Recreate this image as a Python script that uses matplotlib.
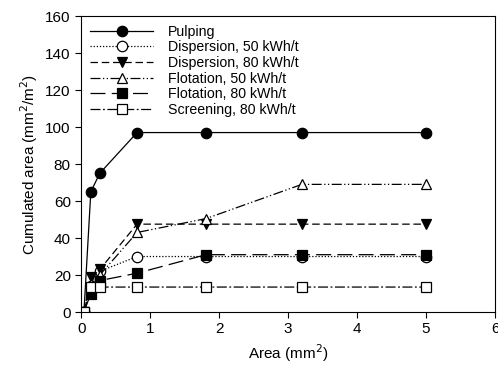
import matplotlib
matplotlib.use('Agg')
import matplotlib.pyplot as plt

plt.rcParams['font.family'] = ['Liberation Sans', 'DejaVu Sans']

area = [0.04, 0.14, 0.27, 0.81, 1.81, 3.2, 5.0]

pulping = [0, 65, 75, 97, 97, 97, 97]
disp_50 = [0, 14, 22, 30, 30, 30, 30]
disp_80 = [0, 19, 23, 47.5, 47.5, 47.5, 47.5]
flot_50 = [0, 15, 20, 43, 50.5, 69, 69]
flot_80 = [0, 10, 17, 21, 31, 31, 31]
screen_80 = [0, 13.5, 13.5, 13.5, 13.5, 13.5, 13.5]

series = [
    ('Pulping', pulping, '-', 'o', 'black'),
    ('Dispersion, 50 kWh/t', disp_50, (0, (1, 1.5)), 'o', 'white'),
    ('Dispersion, 80 kWh/t', disp_80, (0, (6, 3)), 'v', 'black'),
    ('Flotation, 50 kWh/t', flot_50, (0, (8, 2, 1, 2, 1, 2)), '^', 'white'),
    ('Flotation, 80 kWh/t', flot_80, (0, (12, 5)), 's', 'black'),
    ('Screening, 80 kWh/t', screen_80, (0, (8, 2, 1.5, 2)), 's', 'white'),
]

fig = plt.figure(figsize=(4.98, 3.81), dpi=100)
ax = fig.add_axes([0.163, 0.181, 0.831, 0.777])

for label, vals, ls, mk, fc in series:
    ax.plot(area, vals, linestyle=ls, color='black', linewidth=0.9,
            marker=mk, markersize=7.5, markerfacecolor=fc,
            markeredgecolor='black', markeredgewidth=0.9, label=label)

ax.set_xlim(0, 6)
ax.set_ylim(0, 160)
ax.set_xticks(range(0, 7))
ax.set_yticks(range(0, 161, 20))
ax.tick_params(direction='out', labelsize=11, length=4, width=0.8)
ax.tick_params(top=False, right=False)
ax.set_xlabel('Area (mm$^2$)', fontsize=11)
ax.set_ylabel('Cumulated area (mm$^2$/m$^2$)', fontsize=11)

ax.legend(loc='upper left', frameon=False, fontsize=10.2, handlelength=4.5,
          labelspacing=0.12, borderaxespad=0.2, handletextpad=1.05)

fig.savefig('out.png', dpi=100)
